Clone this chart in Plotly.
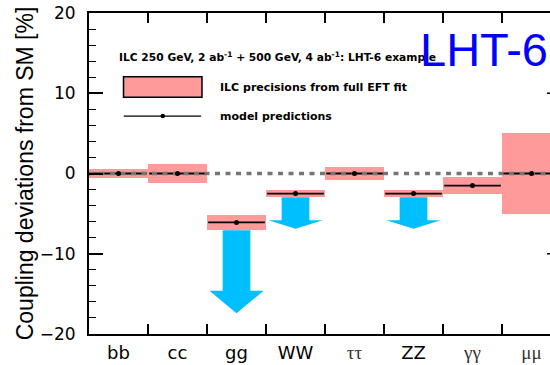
import plotly.graph_objects as go

# Higgs coupling channels
channels = ["bb", "cc", "gg", "WW", "ττ", "ZZ", "γγ", "μμ"]
# LHT-6 model predictions of the coupling deviations [%]
model_pred = [0.0, 0.0, -6.1, -2.5, 0.0, -2.5, -1.5, 0.0]
# ILC precision (half-width of the band) from the full EFT fit [%]
ilc_precision = [0.55, 1.15, 0.98, 0.45, 0.75, 0.45, 1.07, 5.0]
# downward arrows: channel and tip of the arrow [%]
arrow_channels = ["gg", "WW", "ZZ"]
arrow_tips = [-17.4, -6.9, -6.9]

y_ticks = [-20, -10, 0, 10, 20]

BAND = "#ff9a9a"
ARROW = "#00bfff"
SANS = "DejaVu Sans"

centers = [i + 0.5 for i in range(len(channels))]
idx = {c: i for i, c in enumerate(channels)}

fig = go.Figure()

# precision bands centred on the model predictions
fig.add_trace(go.Bar(
    x=centers,
    y=[2 * e for e in ilc_precision],
    base=[p - e for p, e in zip(model_pred, ilc_precision)],
    width=1.0,
    marker=dict(color=BAND, line=dict(width=0)),
    hoverinfo="skip",
))

# arrows from the bottom of the band down to the tip
ax, ay = [], []
for ch, tip in zip(arrow_channels, arrow_tips):
    i = idx[ch]
    c = centers[i]
    top = model_pred[i] - ilc_precision[i]
    head = top + 0.73 * (tip - top)
    ws, wh = 0.235, 0.46
    ax += [c - ws, c + ws, c + ws, c + wh, c, c - wh, c - ws, c - ws, None]
    ay += [top, top, head, head, tip, head, head, top, None]
fig.add_trace(go.Scatter(
    x=ax, y=ay, mode="lines", fill="toself", fillcolor=ARROW,
    line=dict(width=0, color=ARROW), hoverinfo="skip",
))

# model prediction segments across each channel
lx, ly = [], []
for i, p in enumerate(model_pred):
    lx += [i + 0.02, i + 0.98, None]
    ly += [p, p, None]
fig.add_trace(go.Scatter(
    x=lx, y=ly, mode="lines", line=dict(color="black", width=1.8),
    hoverinfo="skip",
))

# SM reference line
fig.add_trace(go.Scatter(
    x=[0, 8], y=[0, 0], mode="lines",
    line=dict(color="#767676", width=3.6, dash="5px,5.5px"),
    hoverinfo="skip",
))

# model prediction points
fig.add_trace(go.Scatter(
    x=centers, y=model_pred, mode="markers",
    marker=dict(color="black", size=5), hoverinfo="skip",
))

# legend key: line with a point
fig.add_trace(go.Scatter(
    x=[0.59, 1.90], y=[7.16, 7.16], mode="lines",
    line=dict(color="black", width=1.3), hoverinfo="skip",
))
fig.add_trace(go.Scatter(
    x=[1.25], y=[7.16], mode="markers",
    marker=dict(color="black", size=4.5), hoverinfo="skip",
))

# empty trace so the boundary-tick axis is drawn
fig.add_trace(go.Scatter(x=[None], y=[None], xaxis="x2", hoverinfo="skip"))

shapes = [
    # legend key: band box
    dict(type="rect", xref="x", yref="y", x0=0.585, x1=1.915, y0=9.5, y1=12.05,
         fillcolor=BAND, line=dict(color="black", width=1.5)),
]
# right-hand major ticks just entering the view
for yv in (10, -10):
    shapes.append(dict(type="line", xref="x", yref="y",
                       x0=8 - 14 / 59, x1=8, y0=yv, y1=yv,
                       line=dict(color="black", width=1.5)))

ticktext = []
for ch in channels:
    if ch in ("ττ", "γγ", "μμ"):
        ticktext.append(f'<span style="font-family:Liberation Serif;font-size:19px;fill:#333">{ch}</span>')
    else:
        ticktext.append(ch)

annotations = [
    dict(x=0.475, y=14.5, xref="x", yref="y", xanchor="left", yanchor="middle",
         showarrow=False,
         text="<b>ILC 250 GeV, 2 ab<sup>-1</sup> + 500 GeV, 4 ab<sup>-1</sup>: LHT-6 example</b>",
         font=dict(family=SANS, size=10.7, color="black")),
    dict(x=2.186, y=10.77, xref="x", yref="y", xanchor="left", yanchor="middle",
         showarrow=False, text="<b>ILC precisions from full EFT fit</b>",
         font=dict(family=SANS, size=11, color="black")),
    dict(x=2.186, y=7.16, xref="x", yref="y", xanchor="left", yanchor="middle",
         showarrow=False, text="<b>model predictions</b>",
         font=dict(family=SANS, size=11, color="black")),
    dict(x=0.714, y=15.45, xref="paper", yref="y", xanchor="left", yanchor="middle",
         showarrow=False, text="LHT-6",
         font=dict(family="Liberation Sans", size=47, color="#0000ff")),
]

x_range = [0, 461 / 59]

fig.update_layout(
    width=550, height=365,
    margin=dict(l=89, r=0, t=13, b=31, pad=0),
    paper_bgcolor="white", plot_bgcolor="white",
    showlegend=False,
    bargap=0,
    shapes=shapes,
    annotations=annotations,
    xaxis=dict(
        range=x_range, tickmode="array", tickvals=centers, ticktext=ticktext,
        ticks="", showline=False, showgrid=False, zeroline=False,
        tickfont=dict(family=SANS, size=18, color="black"),
        ticklabelstandoff=6,
    ),
    xaxis2=dict(
        overlaying="x", anchor="y", side="bottom", range=x_range,
        tickmode="array", tickvals=list(range(1, 8)),
        ticks="inside", ticklen=10, tickwidth=1.5, tickcolor="black",
        showticklabels=False, showline=True, linewidth=2, linecolor="black",
        mirror="ticks", showgrid=False, zeroline=False,
    ),
    yaxis=dict(
        range=[-20, 20], tickmode="array", tickvals=y_ticks,
        ticks="inside", ticklen=14, tickwidth=1.5, tickcolor="black",
        minor=dict(dtick=2, ticks="inside", ticklen=7, tickwidth=1.3,
                   tickcolor="black", showgrid=False),
        showline=True, linewidth=2, linecolor="black", mirror=False,
        showgrid=False, zeroline=False,
        tickfont=dict(family=SANS, size=17, color="black"),
        ticklabelstandoff=8,
        title=dict(text="Coupling deviations from SM [%]",
                   font=dict(family="Liberation Sans", size=23, color="black"),
                   standoff=0),
    ),
)

fig.write_html("out.html")
